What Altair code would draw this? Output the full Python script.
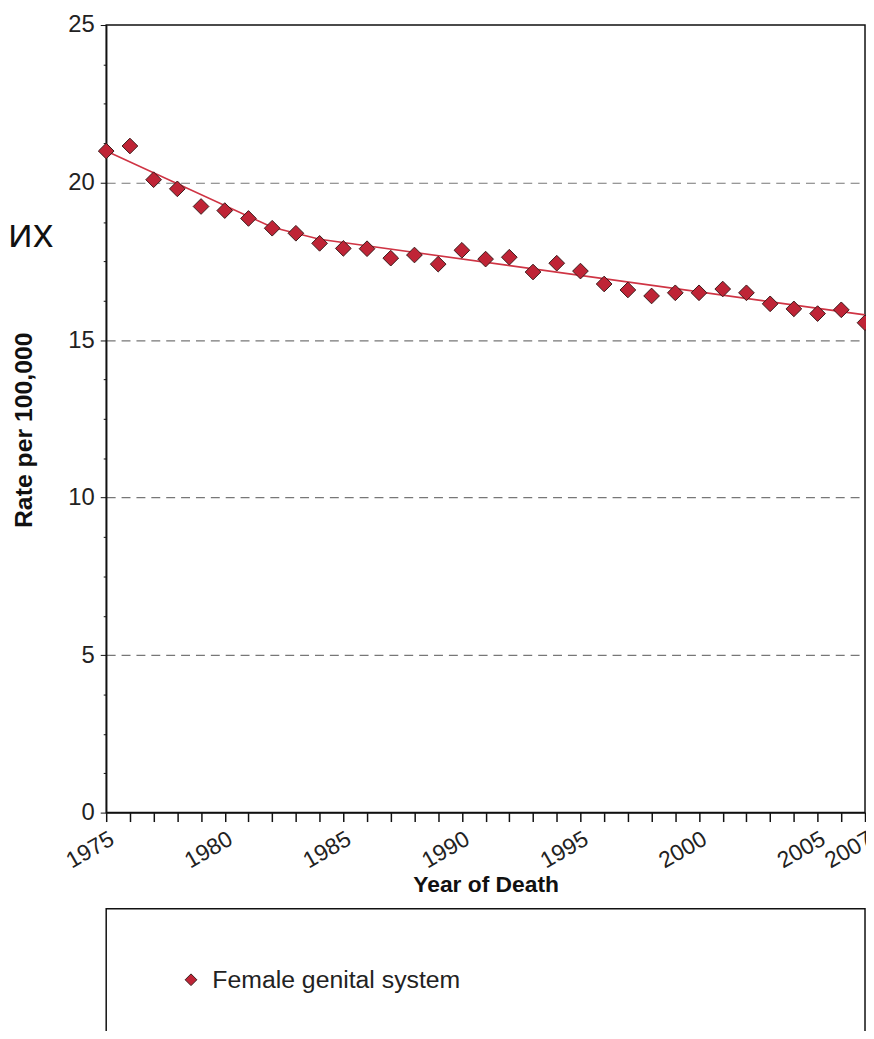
import json
import altair as alt
import pandas as pd

# ---- data ----
YEARS = list(range(1975, 2008))
RATES = [21.00, 21.16, 20.09, 19.80, 19.24, 19.11, 18.86, 18.55, 18.39, 18.07,
         17.91, 17.90, 17.60, 17.70, 17.41, 17.85, 17.57, 17.63, 17.16, 17.44,
         17.19, 16.78, 16.59, 16.40, 16.50, 16.50, 16.62, 16.50, 16.15, 15.99,
         15.84, 15.96, 15.55]
TREND_YEARS = [1975, 1982, 1984, 2007]
TREND_RATES = [21.00, 18.58, 18.20, 15.80]
SERIES = "Female genital system"
X_LABELS = [1975, 1980, 1985, 1990, 1995, 2000, 2005, 2007]
Y_TICKS = [i * 1.25 for i in range(21)]
Y_LABELS = [0, 5, 10, 15, 20, 25]
Y_GRID = [5, 10, 15, 20]
SIDE_TEXT = ["ких"]

FONT = "Liberation Sans"
RED = "#bf2436"

pts = pd.DataFrame({"year": YEARS, "rate": RATES, "series": [SERIES] * len(YEARS)})
trend = pd.DataFrame({"year": TREND_YEARS, "rate": TREND_RATES})

W, H = 765, 794

xscale = alt.Scale(domain=[1975, 2007], nice=False, zero=False)
yscale = alt.Scale(domain=[0, 25], nice=False, zero=True)

x_axis = alt.Axis(
    title="Year of Death",
    values=YEARS,
    format="d",
    labelExpr="indexof(%s, datum.value) >= 0 ? datum.label : ''" % json.dumps(X_LABELS),
    labelAngle=330,
    labelAlign="right",
    labelBaseline="top",
    labelOverlap=False,
    labelFlush=False,
    labelBound=False,
    labelPadding=6,
    labelFontSize=23,
    labelColor="#222",
    labelFont=FONT,
    tickSize=9,
    tickColor="#111",
    tickWidth=1.5,
    domainColor="#111",
    domainWidth=1.5,
    grid=False,
    titleFont=FONT,
    titleFontSize=23,
    titleFontWeight="bold",
    titleColor="#111",
    titleY=73,
    titleBaseline="middle",
)

y_axis = alt.Axis(
    title="Rate per 100,000",
    values=Y_TICKS,
    labelExpr="indexof(%s, datum.value) >= 0 ? datum.label : ''" % json.dumps(Y_LABELS),
    labelOverlap=False,
    labelFontSize=24,
    labelColor="#222",
    labelFont=FONT,
    labelPadding=6,
    tickSize={"condition": {"test": "datum.value % 5 === 0", "value": 6}, "value": 3},
    tickColor="#111",
    tickWidth=1,
    domainColor="#111",
    domainWidth=1.5,
    grid=True,
    gridDash=[9, 6],
    gridColor="#777777",
    gridWidth=1.2,
    gridOpacity={"condition": {"test": "indexof(%s, datum.value) >= 0" % json.dumps(Y_GRID), "value": 1}, "value": 0},
    titleFont=FONT,
    titleFontSize=25,
    titleFontWeight="bold",
    titleColor="#111",
    titleX=-83,
    titleY=408,
    titleAngle=270,
    titleAlign="center",
    titleBaseline="middle",
)

box = alt.Chart(pd.DataFrame({"k": [0]})).mark_rect(
    fill="white", stroke="#111", strokeWidth=1.5
).encode(x=alt.value(0), x2=alt.value(W), y=alt.value(891), y2=alt.value(1200))

line = alt.Chart(trend).mark_line(color="#cf3444", strokeWidth=1.6).encode(
    x=alt.X("year:Q", scale=xscale, axis=x_axis),
    y=alt.Y("rate:Q", scale=yscale, axis=y_axis),
)

points = alt.Chart(pts).mark_point(
    shape="diamond", filled=True, size=250, opacity=1, stroke="#3a1a1a", strokeWidth=1
).encode(
    x=alt.X("year:Q", scale=xscale, axis=x_axis),
    y=alt.Y("rate:Q", scale=yscale, axis=y_axis),
    color=alt.Color(
        "series:N",
        scale=alt.Scale(domain=[SERIES], range=[RED]),
        legend=alt.Legend(
            title=None,
            orient="none",
            legendX=73,
            legendY=950,
            padding=0,
            symbolType="diamond",
            symbolSize=140,
            symbolStrokeColor="#3a1a1a",
            symbolStrokeWidth=1,
            labelFont=FONT,
            labelFontSize=25,
            labelColor="#222",
            labelOffset=9,
            labelLimit=500,
        ),
    ),
)

side = alt.Chart(pd.DataFrame({"t": SIDE_TEXT})).mark_text(
    font="Open Sans", fontSize=40, align="right", baseline="alphabetic", color="#111"
).encode(text="t:N", x=alt.value(-53), y=alt.value(224))

chart = alt.layer(box, line, points, side).properties(
    width=W,
    height=H,
    background="white",
    autosize=alt.AutoSizeParams(type="none"),
    padding={"left": 99, "top": 13, "right": 1, "bottom": 216},
).configure_view(stroke="#111", strokeWidth=1.5).configure_axis(
    labelOverlap=False
)

chart.save("out.html", embed_options={"renderer": "svg", "actions": False})
